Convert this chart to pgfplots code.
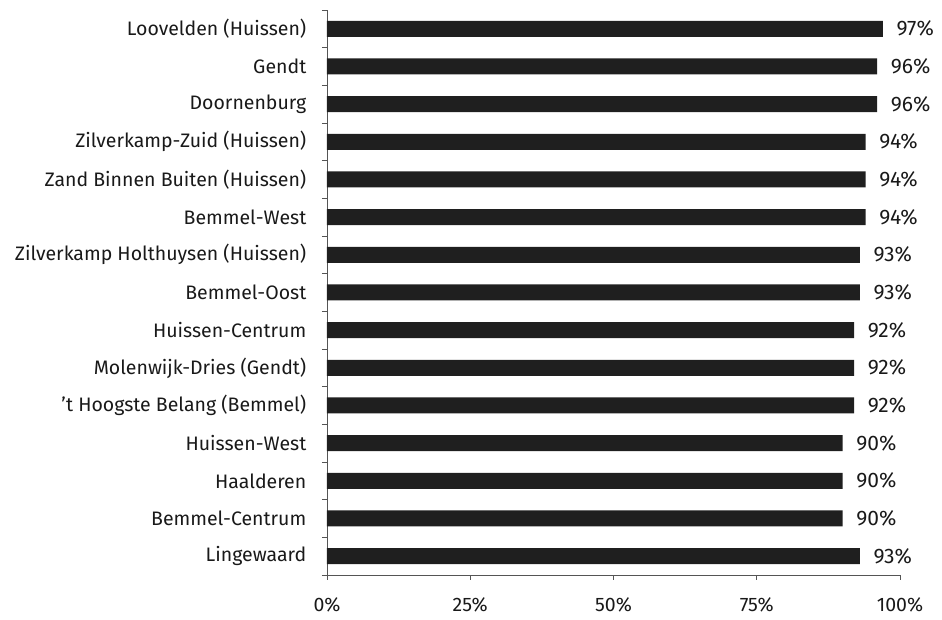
\documentclass[border=0pt]{standalone}
\usepackage{pgfplots}
\pgfplotsset{compat=1.18}
\usepackage{fontspec}
\setmainfont{Fira Sans}
\definecolor{barc}{HTML}{1F1F1F}
\definecolor{axc}{HTML}{555555}
\begin{document}
\fontsize{19.5}{22}\selectfont
\begin{tikzpicture}
\begin{axis}[
  scale only axis,
  width=573pt, height=565pt,
  xmin=0, xmax=100, ymin=-0.5, ymax=14.5,
  xbar, bar width=16pt,
  axis x line*=bottom, axis y line*=left,
  axis line style={axc, line width=0.8pt},
  xtick={0,25,50,75,100},
  xticklabels={0\%,25\%,50\%,75\%,100\%},
  ytick={0,...,14},
  yticklabels={Lingewaard,Bemmel-Centrum,Haalderen,Huissen-West,{'t Hoogste Belang (Bemmel)},Molenwijk-Dries (Gendt),Huissen-Centrum,Bemmel-Oost,Zilverkamp Holthuysen (Huissen),Bemmel-West,Zand Binnen Buiten (Huissen),Zilverkamp-Zuid (Huissen),Doornenburg,Gendt,Loovelden (Huissen)},
  minor ytick={-0.5,0.5,...,14.5},
  major tick length=0pt,
  minor tick length=5pt,
  tick align=outside,
  tick style={axc, line width=0.8pt},
  extra x ticks={0,25,50,75,100},
  extra x tick labels={},
  extra x tick style={major tick length=5pt, tick align=outside},
  xticklabel style={yshift=-16pt, text=black!90},
  yticklabel style={xshift=-14pt, text=black!90},
  nodes near coords={\pgfmathprintnumber{\pgfplotspointmeta}\%},
  nodes near coords style={anchor=west, xshift=7pt, text=black!90, font=\fontsize{21}{24}\selectfont},
  /pgf/number format/assume math mode=true,
  clip=false,
]
\addplot[fill=barc, draw=none] coordinates {
(93,0) (90,1) (90,2) (90,3) (92,4) (92,5) (92,6) (93,7) (93,8) (94,9) (94,10) (94,11) (96,12) (96,13) (97,14)
};
\coordinate (bl) at (rel axis cs:0,0);
\coordinate (tr) at (rel axis cs:1,1);
\end{axis}
\pgfresetboundingbox
\path ([xshift=-327pt,yshift=-45pt]bl) rectangle ([xshift=42pt,yshift=10pt]tr);
\end{tikzpicture}
\end{document}
